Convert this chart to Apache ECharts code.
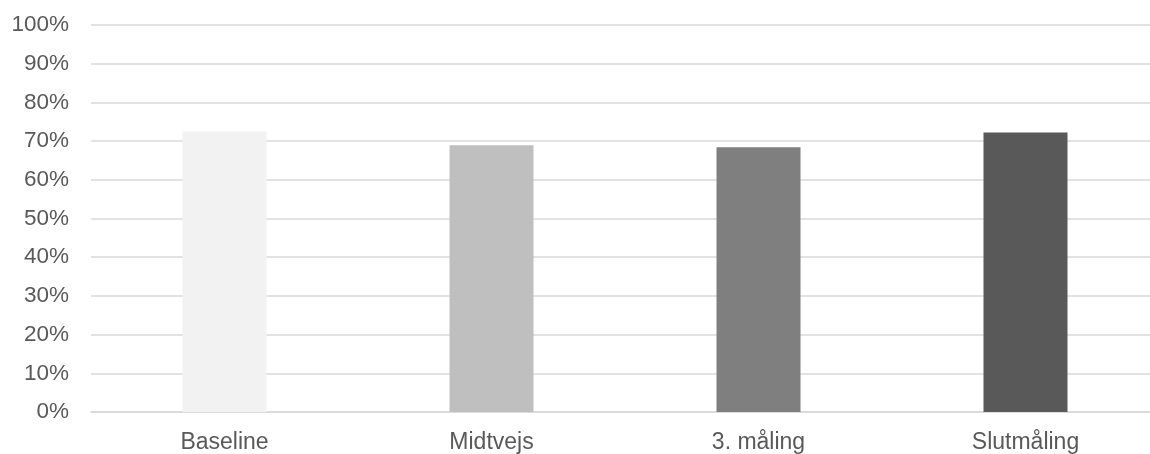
<!DOCTYPE html>
<html>
<head>
<meta charset="utf-8">
<script src="https://cdn.jsdelivr.net/npm/echarts@6/dist/echarts.min.js"></script>
<style>
  html, body { margin: 0; padding: 0; background: #ffffff; }
  #frame { width: 1150px; height: 454px; overflow: hidden; position: relative; }
  /* the plot runs slightly past the right edge of the frame */
  #chart { width: 1160px; height: 454px; position: absolute; left: 0; top: 0; }
</style>
</head>
<body>
<div id="frame"><div id="chart"></div></div>
<script>
// Measurement rounds and their share (percent)
const categories = ['Baseline', 'Midtvejs', '3. måling', 'Slutmåling'];
const values = [72.5, 68.9, 68.4, 72.2];
const barColors = ['#F2F2F2', '#BFBFBF', '#7F7F7F', '#595959'];
const yTicks = [0, 10, 20, 30, 40, 50, 60, 70, 80, 90, 100];

const chart = echarts.init(document.getElementById('chart'), null, { renderer: 'canvas' });

chart.setOption({
  animation: false,
  backgroundColor: '#ffffff',
  grid: { left: 91, right: 1, top: 25, height: 389, containLabel: false },
  xAxis: {
    type: 'category',
    data: categories,
    axisLine: { show: true, lineStyle: { color: '#D9D9D9', width: 1.5 } },
    axisTick: { show: false },
    axisLabel: {
      color: '#595959',
      fontFamily: 'Liberation Sans, Arial, sans-serif',
      fontSize: 23,
      margin: 19,
      interval: 0
    }
  },
  yAxis: {
    type: 'value',
    min: yTicks[0],
    max: yTicks[yTicks.length - 1],
    interval: 10,
    axisLine: { show: false },
    axisTick: { show: false },
    splitLine: { lineStyle: { color: '#D9D9D9', width: 1.5 } },
    axisLabel: {
      color: '#595959',
      fontFamily: 'Liberation Sans, Arial, sans-serif',
      fontSize: 22.5,
      margin: 22,
      formatter: v => v + '%'
    }
  },
  series: [{
    type: 'bar',
    barWidth: 84,
    data: values.map((v, i) => ({ value: v, itemStyle: { color: barColors[i] } })),
    z: 3
  }]
});
</script>
</body>
</html>
